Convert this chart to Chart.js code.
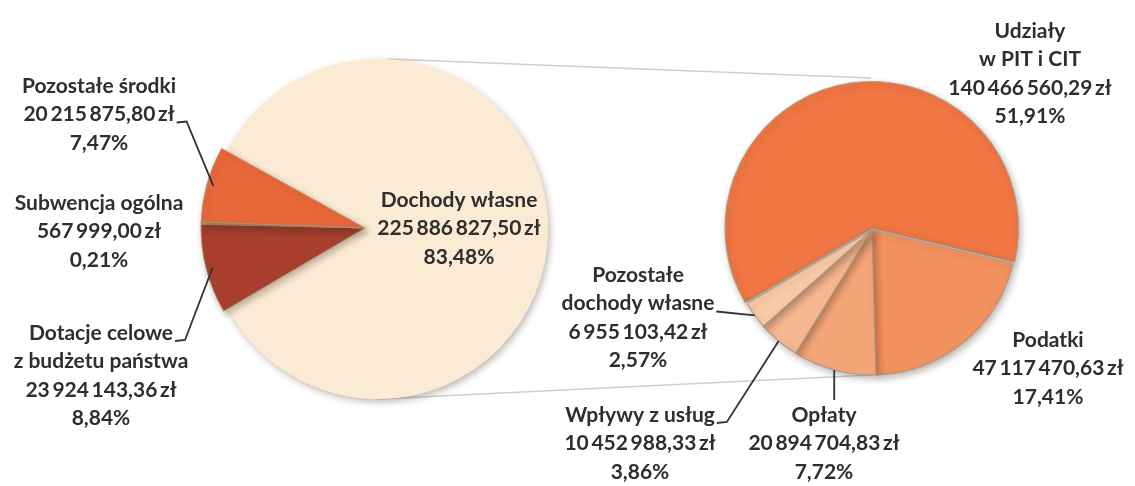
<!DOCTYPE html>
<html lang="pl">
<head>
<meta charset="utf-8">
<title>Struktura dochodów</title>
<script src="https://cdn.jsdelivr.net/npm/chart.js@4.4.1/dist/chart.umd.min.js"></script>
<style>
  html, body { margin: 0; padding: 0; background: #fff; }
  #stage { position: relative; width: 1135px; height: 486px; overflow: hidden; }
  #stage canvas { position: absolute; left: 0; top: 0; }
</style>
</head>
<body>
<div id="stage">
  <canvas id="rightPie" width="1135" height="486"></canvas>
  <canvas id="leftPie" width="1135" height="486"></canvas>
  <canvas id="leftGroup" width="1135" height="486"></canvas>
</div>
<script>
// Struktura dochodów - pie of pie

// Left pie: all income
const leftLabels = [
    ['Dochody własne'],
    ['Dotacje celowe', 'z budżetu państwa'],
    ['Subwencja ogólna'],
    ['Pozostałe środki']
];
const leftValues = [225886827.50, 23924143.36, 567999.00, 20215875.80];

// Right pie: breakdown of "Dochody własne"
const rightLabels = [
    ['Udziały', 'w PIT i CIT'],
    ['Podatki'],
    ['Opłaty'],
    ['Wpływy z usług'],
    ['Pozostałe', 'dochody własne']
];
const rightValues = [140466560.29, 47117470.63, 20894704.83, 10452988.33, 6955103.42];

// Colours
const leftColors = ['#FBEBD5', '#A9402F', '#C9A07C', '#E8683A'];
const rightColors = ['#F07643', '#F3915F', '#F5A679', '#F7B791', '#F9CAA8'];

// Label placement (centre x, first line y)
const leftLabelPos = [
    { x: 459, y: 200 },
    { x: 101, y: 333 },
    { x: 99, y: 203 },
    { x: 99, y: 86 }
];
const rightLabelPos = [
    { x: 1030, y: 31 },
    { x: 1048, y: 340 },
    { x: 824, y: 415 },
    { x: 640, y: 415 },
    { x: 638, y: 275 }
];

const LINE_H = 28.5;
const FONT = '700 21px Lato';
const TEXT_COLOR = '#2e2e2e';
const grandTotal = leftValues.reduce((a, b) => a + b, 0);

function fmtMoney(v) {
    const parts = v.toFixed(2).split('.');
    return parts[0].replace(/\B(?=(\d{3})+(?!\d))/g, '\u2009') + ',' + parts[1] + '\u2009zł';
}

function fmtPct(v) {
    return (v / grandTotal * 100).toFixed(2).replace('.', ',') + '%';
}

function labelLines(names, value) {
    return [...names, fmtMoney(value), fmtPct(value)];
}

// point on a slice, along its middle angle
function arcPoint(arc, frac) {
    const mid = (arc.startAngle + arc.endAngle) / 2;
    const off = arc.options.offset || 0;
    const r = arc.outerRadius * frac + off;
    return { x: arc.x + Math.cos(mid) * r, y: arc.y + Math.sin(mid) * r };
}

function drawLabels(chart, names, values, pos, leaders) {
    const ctx = chart.ctx;
    const arcs = chart.getDatasetMeta(0).data;
    ctx.save();
    ctx.font = FONT;
    ctx.fillStyle = TEXT_COLOR;
    ctx.strokeStyle = '#333';
    ctx.lineWidth = 1.8;
    ctx.textAlign = 'center';
    ctx.textBaseline = 'middle';
    pos.forEach((p, i) => {
        if (!p) return;
        const lines = labelLines(names[i], values[i]);
        lines.forEach((t, k) => ctx.fillText(t, p.x, p.y + k * LINE_H));

        const ld = leaders[i];
        if (!ld) return;
        const a = arcPoint(arcs[i], ld.frac);
        ctx.beginPath();
        if (ld.type === 'up') {
            ctx.moveTo(a.x, a.y);
            ctx.lineTo(a.x, p.y - 15);
        } else {
            const w = ctx.measureText(lines[ld.line]).width;
            const sx = p.x + w / 2 + 2;
            const sy = p.y + ld.line * LINE_H + 8;
            ctx.moveTo(sx, sy);
            if (ld.type === 'hook') {
                ctx.lineTo(sx + 10, sy - 1);
            }
            ctx.lineTo(a.x, a.y);
        }
        ctx.stroke();
    });
    ctx.restore();
}

function setShadow(c) {
    c.shadowColor = 'rgba(70, 50, 30, 0.35)';
    c.shadowBlur = 7;
    c.shadowOffsetX = 2;
    c.shadowOffsetY = 3;
}

const shadowPlugin = {
    id: 'softShadow',
    beforeDatasetsDraw(chart) {
        chart.ctx.save();
        setShadow(chart.ctx);
    },
    afterDatasetsDraw(chart) {
        chart.ctx.restore();
    }
};

// shadow under the whole left disc, taken from the slice geometry
const discShadowPlugin = {
    id: 'discShadow',
    beforeDatasetsDraw(chart) {
        const a = chart.getDatasetMeta(0).data[0];
        const c = chart.ctx;
        c.save();
        setShadow(c);
        c.fillStyle = leftColors[0];
        c.beginPath();
        c.arc(a.x, a.y, a.outerRadius, 0, Math.PI * 2);
        c.fill();
        c.restore();
    }
};

const baseOptions = {
    responsive: false,
    animation: false,
    events: [],
    plugins: {
        legend: { display: false },
        tooltip: { enabled: false }
    }
};

// Left pie, background disc in the main slice colour
const leftPie = new Chart(document.getElementById('leftPie'), {
    type: 'pie',
    data: {
        labels: leftLabels,
        datasets: [{
            data: leftValues,
            backgroundColor: leftColors[0],
            borderWidth: 0
        }]
    },
    options: {
        ...baseOptions,
        rotation: -61,
        radius: 170,
        layout: { padding: { left: 0, top: 0, right: 379, bottom: 28 } }
    },
    plugins: [discShadowPlugin, {
        id: 'mainLabel',
        afterDraw(chart) {
            drawLabels(chart, leftLabels, leftValues, [leftLabelPos[0]], []);
        }
    }]
});

// Left pie, the small slices drawn over it
const leftGroup = new Chart(document.getElementById('leftGroup'), {
    type: 'pie',
    data: {
        labels: leftLabels,
        datasets: [{
            data: leftValues,
            backgroundColor: leftColors.map((c, i) => i === 0 ? 'rgba(0,0,0,0)' : c),
            borderColor: 'rgba(175, 150, 120, 0.9)',
            borderWidth: leftValues.map((v, i) => i === 0 ? 0 : 1)
        }]
    },
    options: {
        ...baseOptions,
        rotation: -61,
        radius: 164,
        layout: { padding: { left: 0, top: 0, right: 405, bottom: 30 } }
    },
    plugins: [shadowPlugin, {
        id: 'groupLabels',
        afterDraw(chart) {
            const pos = leftLabelPos.map((p, i) => i === 0 ? null : p);
            drawLabels(chart, leftLabels, leftValues, pos, [
                null,
                { type: 'hook', line: 0, frac: 0.96 },
                null,
                { type: 'hook', line: 1, frac: 0.96 }
            ]);
        }
    }]
});

// Right pie + connector lines
const rightPie = new Chart(document.getElementById('rightPie'), {
    type: 'pie',
    data: {
        labels: rightLabels,
        datasets: [{
            data: rightValues,
            backgroundColor: rightColors,
            borderColor: 'rgba(170, 150, 130, 0.85)',
            borderWidth: 1.2,
            offset: [7, 0, 0, 0, 0]
        }]
    },
    options: {
        ...baseOptions,
        rotation: 239.5,
        radius: 145,
        layout: { padding: { left: 609, top: 0, right: 0, bottom: 26 } }
    },
    plugins: [{
        id: 'connectors',
        beforeDatasetsDraw(chart) {
            const L = leftPie.getDatasetMeta(0).data[0];
            const R = chart.getDatasetMeta(0).data[0];
            const mid = (R.startAngle + R.endAngle) / 2;
            const off = R.options.offset || 0;
            const ctx = chart.ctx;
            ctx.save();
            ctx.strokeStyle = '#cfcfcf';
            ctx.lineWidth = 1.5;
            ctx.beginPath();
            ctx.moveTo(L.x + 10, L.y - L.outerRadius);
            ctx.lineTo(R.x + Math.cos(mid) * off, R.y + Math.sin(mid) * off - R.outerRadius);
            ctx.moveTo(L.x, L.y + L.outerRadius);
            ctx.lineTo(R.x, R.y + R.outerRadius);
            ctx.stroke();
            ctx.restore();
        }
    }, shadowPlugin, {
        id: 'rightLabels',
        afterDraw(chart) {
            drawLabels(chart, rightLabels, rightValues, rightLabelPos, [
                null,
                null,
                { type: 'up', frac: 1.0 },
                { type: 'hook', line: 0, frac: 1.0 },
                { type: 'direct', line: 1, frac: 1.0 }
            ]);
        }
    }]
});
</script>
</body>
</html>
